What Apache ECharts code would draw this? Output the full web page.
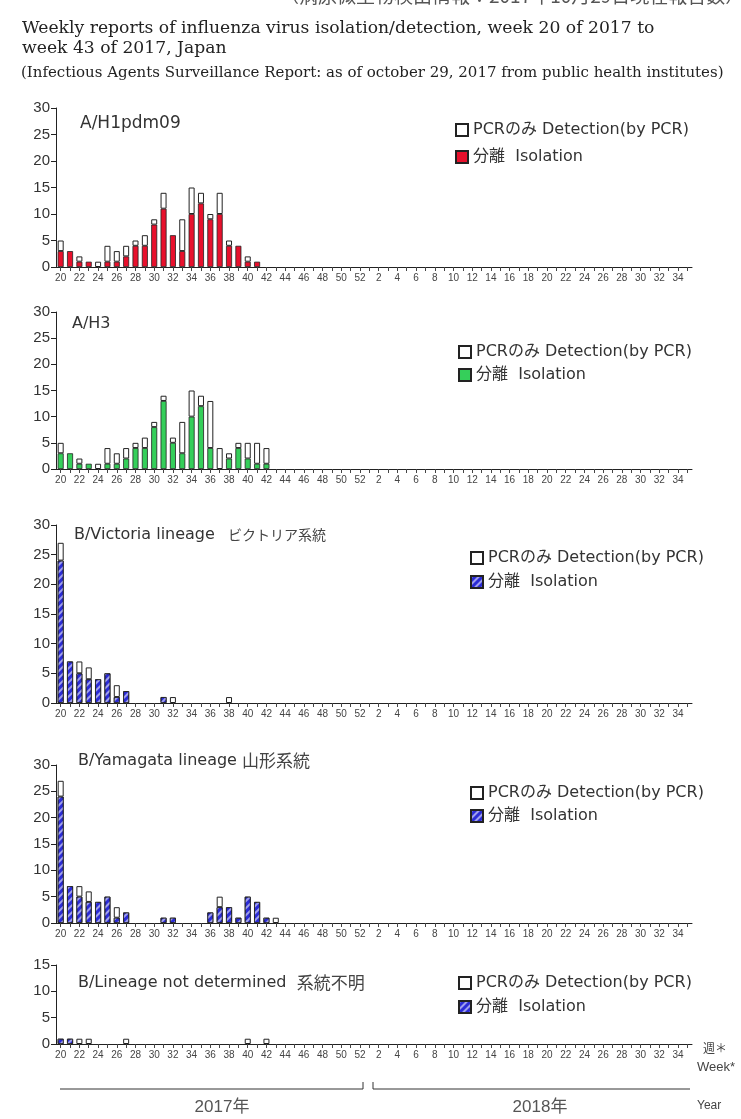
<!DOCTYPE html>
<html><head><meta charset="utf-8">
<script src="https://cdn.jsdelivr.net/npm/echarts@6/dist/echarts.min.js"></script>
<style>html,body{margin:0;padding:0;background:#fff}#c{width:741px;height:1119px}</style>
</head><body><div id="c"></div>
<script>
// Categories: ISO week numbers, week 20 of 2017 to week 35 of 2018
const weeks = ['20','21','22','23','24','25','26','27','28','29','30','31','32','33','34','35','36','37','38','39','40','41','42','43','44','45','46','47','48','49','50','51','52',
  '1','2','3','4','5','6','7','8','9','10','11','12','13','14','15','16','17','18','19','20','21','22','23','24','25','26','27','28','29','30','31','32','33','34','35'];

// Values for weeks 20..43 of 2017 (later weeks: no reports)
const h1Isolation = [3,3,1,1,0,1,1,2,4,4,8,11,6,3,10,12,9,10,4,4,1,1,0,0];
const h1PCR       = [2,0,1,0,1,3,2,2,1,2,1,3,0,6,5,2,1,4,1,0,1,0,0,0];
const h3Isolation = [3,3,1,1,0,1,1,2,4,4,8,13,5,3,10,12,4,0,2,4,2,1,1,0];
const h3PCR       = [2,0,1,0,1,3,2,2,1,2,1,1,1,6,5,2,9,4,1,1,3,4,3,0];
const bvIsolation = [24,7,5,4,4,5,1,2,0,0,0,1,0,0,0,0,0,0,0,0,0,0,0,0];
const bvPCR       = [3,0,2,2,0,0,2,0,0,0,0,0,1,0,0,0,0,0,1,0,0,0,0,0];
const byIsolation = [24,7,5,4,4,5,1,2,0,0,0,1,1,0,0,0,2,3,3,1,5,4,1,0];
const byPCR       = [3,0,2,2,0,0,2,0,0,0,0,0,0,0,0,0,0,2,0,0,0,0,0,1];
const bnIsolation = [1,1,0,0,0,0,0,0,0,0,0,0,0,0,0,0,0,0,0,0,0,0,0,0];
const bnPCR       = [0,0,1,1,0,0,0,1,0,0,0,0,0,0,0,0,0,0,0,0,1,0,1,0];

const panelTitlesLatin = ['A/H1pdm09','A/H3','B/Victoria lineage','B/Yamagata lineage','B/Lineage not determined'];
const panelTitlesJa = ['','','ビクトリア系統','山形系統','系統不明'];
const yMax = [30,30,30,30,15];
const pcrLabel = 'PCRのみ Detection(by PCR)';
const isoLabel = '分離  Isolation';

const SANS = 'DejaVu Sans, Noto Sans CJK JP';
const LSANS = 'Liberation Sans, Noto Sans CJK JP';
const SERIF = 'DejaVu Serif, Noto Serif CJK JP, Noto Sans CJK JP';
const grids = [
  {top:108,height:159},{top:312,height:157},{top:525,height:178},{top:765,height:158},{top:965,height:79}
];
const isoColors = ['#e8102c','#35cf5a','#2b2bd6','#2b2bd6','#2b2bd6'];
const dataSets = [[h1Isolation,h1PCR],[h3Isolation,h3PCR],[bvIsolation,bvPCR],[byIsolation,byPCR],[bnIsolation,bnPCR]];
const legendPos = [[455,122,11],[458,344,7],[470,550,8],[470,785,7],[458,975,8]];

const chart = echarts.init(document.getElementById('c'), null, {renderer:'canvas'});
const option = {
  backgroundColor:'#fff',
  animation:false,
  grid: grids.map(g=>({left:56,right:49,top:g.top,height:g.height,containLabel:false})),
  xAxis: grids.map((g,i)=>({
    type:'category', gridIndex:i, data:weeks, boundaryGap:true,
    axisLine:{show:true,lineStyle:{color:'#222',width:1}},
    axisTick:{show:true,alignWithLabel:true,interval:0,length:4,lineStyle:{color:'#444'}},
    axisLabel:{interval:1,fontSize:10,color:'#444',margin:6,fontFamily:LSANS},
    splitLine:{show:false}
  })),
  yAxis: grids.map((g,i)=>({
    type:'value', gridIndex:i, min:0, max:yMax[i], interval:5,
    axisLine:{show:true,lineStyle:{color:'#222',width:1}},
    axisTick:{show:true,length:5,lineStyle:{color:'#222'}},
    axisLabel:{fontSize:15,color:'#333',margin:6,fontFamily:LSANS},
    splitLine:{show:false}
  })),
  legend: legendPos.map((p,i)=>({
    left:p[0], top:p[1], padding:0, orient:'vertical', itemWidth:12, itemHeight:12, itemGap:p[2],
    icon:'rect', data:['pcr'+i,'iso'+i], selectedMode:false,
    formatter: n => n.startsWith('pcr') ? pcrLabel : isoLabel,
    textStyle:{fontSize:16,color:'#333',fontFamily:SANS}
  })),
  series: []
};
const nz = v => (v === 0 ? null : v);
dataSets.forEach((d,i)=>{
  const blue = i>=2;
  const isoStyle = {color:isoColors[i], borderColor:'#222', borderWidth:0.8};
  if (blue) isoStyle.decal = {symbol:'rect', symbolSize:1, color:'rgba(255,255,255,0.55)', dashArrayX:[1,0], dashArrayY:[1.5,2.5], rotation:-Math.PI/4};
  option.series.push({
    name:'iso'+i, type:'bar', xAxisIndex:i, yAxisIndex:i, stack:'s'+i, barWidth:6,
    data:d[0].map(nz), itemStyle:isoStyle
  });
  option.series.push({
    name:'pcr'+i, type:'bar', xAxisIndex:i, yAxisIndex:i, stack:'s'+i, barWidth:6,
    data:d[1].map(nz), itemStyle:{color:'#fff', borderColor:'#222', borderWidth:1}
  });
});
const titleY = [125,326,537,762,984];
const titleX = [80,72,74,78,78];
const latinSize = [17,16,16,16,16];
const jaSize = [16,16,14,17,17];
const gapText = ['','',' \u2002',' ','  '];
const gfx = [
  {type:'text', left:280, top:-14, style:{text:'（病原微生物検出情報：2017年10月29日現在報告数）', font:'19px Noto Sans CJK JP', fill:'#555'}},
  {type:'text', left:22, top:20, style:{text:'Weekly reports of influenza virus isolation/detection, week 20 of 2017 to', font:'17.2px '+SERIF, fill:'#222'}},
  {type:'text', left:22, top:40, style:{text:'week 43 of 2017, Japan', font:'17.2px '+SERIF, fill:'#222'}},
  {type:'text', left:21, top:66, style:{text:'(Infectious Agents Surveillance Report: as of october 29, 2017 from public health institutes)', font:'15px '+SERIF, fill:'#222'}},
  {type:'text', left:703, top:1042, style:{text:'週＊', font:'12px Noto Sans CJK JP', fill:'#444'}},
  {type:'text', left:697, top:1061, style:{text:'Week*', font:'13px '+LSANS, fill:'#444'}},
  {type:'text', left:697, top:1100, style:{text:'Year', font:'12px '+LSANS, fill:'#444'}},
  {type:'polyline', shape:{points:[[60,1089],[363,1089],[363,1082]]}, style:{stroke:'#333',lineWidth:1,fill:null}},
  {type:'polyline', shape:{points:[[373,1082],[373,1089],[690,1089]]}, style:{stroke:'#333',lineWidth:1,fill:null}},
  {type:'text', x:222, y:1107, style:{text:'2017年', font:'17px '+LSANS, fill:'#555', align:'center', verticalAlign:'middle'}},
  {type:'text', x:540, y:1107, style:{text:'2018年', font:'17px '+LSANS, fill:'#555', align:'center', verticalAlign:'middle'}}
];
panelTitlesLatin.forEach((t,i)=>{
  gfx.push({type:'text', left:titleX[i], top:titleY[i]-10, style:{
    text:'{a|'+t+'}' + (panelTitlesJa[i] ? '{g|'+gapText[i]+'}{j|'+panelTitlesJa[i]+'}' : ''),
    rich:{a:{fontSize:latinSize[i],fontFamily:SANS,fill:'#333',color:'#333'},
          g:{fontSize:16,fontFamily:SANS},
          j:{fontSize:jaSize[i],fontFamily:'Noto Sans CJK JP',fill:'#444',color:'#444'}}
  }});
});
option.graphic = gfx;
chart.setOption(option);
</script></body></html>
